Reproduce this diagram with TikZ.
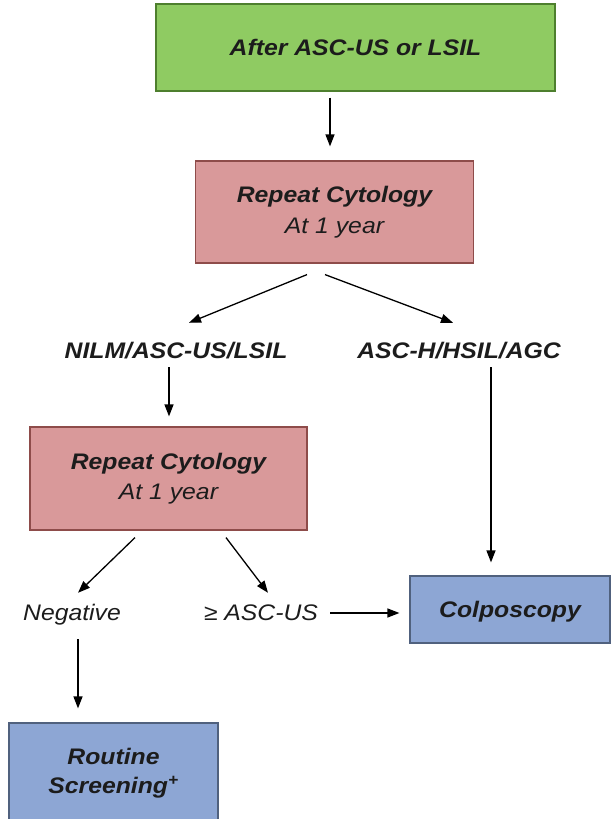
\documentclass[tikz,border=0pt]{standalone}
\usepackage{fontspec}
\usepackage{xcolor}
\usepackage{tikz}
\usetikzlibrary{calc, arrows.meta, positioning}
\newfontfamily\chartfont{Liberation Sans}[FakeStretch=1.1]
\definecolor{stepgreen}{HTML}{8FCB62}
\definecolor{stepgreenline}{HTML}{4E7F2E}
\definecolor{steppink}{HTML}{D9999A}
\definecolor{steppinkline}{HTML}{8E4C4A}
\definecolor{stepblue}{HTML}{8DA6D4}
\definecolor{stepblueline}{HTML}{50617E}
\definecolor{inktext}{HTML}{1C1C1C}

\begin{document}
\begin{tikzpicture}[
        x=1pt, y=1pt,
        box/.style = {draw, rectangle, line width=1.2pt, align=center, text=inktext, font=\chartfont\fontsize{22.5}{30.5}\selectfont\itshape},
        startbox/.style = {box, fill=stepgreen, draw=stepgreenline, minimum width=399pt, minimum height=87pt},
        repeatbox/.style = {box, fill=steppink, draw=steppinkline, minimum width=278pt, minimum height=102pt},
        endbox/.style = {box, fill=stepblue, draw=stepblueline},
        result/.style = {inner sep=0pt, text height=16pt, text depth=0pt, text=inktext, font=\chartfont\fontsize{22.5}{27}\selectfont\itshape},
        arrow/.style = {draw=black, -{Triangle[length=12pt, width=9pt]}, line width=1.3pt}
    ]

        \useasboundingbox (0,0) rectangle (612,819);

        % Start
        \node (start) [startbox] at (355.5,771.5) {\bfseries After ASC-US or LSIL};

        % First repeat
        \node (rep1) [repeatbox] at (334.5,607) {\bfseries Repeat Cytology\\At 1 year};

        % Results of first repeat
        \node (nilm) [result, font=\chartfont\fontsize{22.5}{27}\selectfont\bfseries\itshape] at (176,468) {NILM/ASC-US/LSIL};
        \node (asch) [result, font=\chartfont\fontsize{22.5}{27}\selectfont\bfseries\itshape] at (459,468) {ASC-H/HSIL/AGC};

        % Second repeat
        \node (rep2) [repeatbox, minimum width=277pt, minimum height=103pt] at (168.5,340.5) {\bfseries Repeat Cytology\\At 1 year};

        % Results of second repeat
        \node (neg) [result] at (72,206) {Negative};
        \node (ascus) [result] at (261,206) {≥ ASC-US};

        % Outcomes
        \node (colpo) [endbox, minimum width=200pt, minimum height=67pt, text height=16pt, text depth=0pt] at (510,209.5) {\bfseries Colposcopy};
        \node (routine) [endbox, minimum width=209pt, minimum height=100pt, font=\chartfont\fontsize{22.5}{29}\selectfont\itshape] at (113.5,46) {\bfseries Routine\\\bfseries Screening\textsuperscript{+}};

        % Arrows
        \draw [arrow] ([xshift=-25.5pt, yshift=-6pt]start.south) -- ([xshift=-4.5pt, yshift=14pt]rep1.north);

        \draw [arrow] ([xshift=-27.5pt, yshift=-11pt]rep1.south) -- ([xshift=13pt, yshift=20pt]nilm.north);
        \draw [arrow] ([xshift=-9.5pt, yshift=-11pt]rep1.south) -- ([xshift=-6pt, yshift=20pt]asch.north);

        \draw [arrow] ([xshift=-7pt, yshift=-8pt]nilm.south) -- ([xshift=0.5pt, yshift=10pt]rep2.north);
        \draw [arrow] ([xshift=32pt, yshift=-8pt]asch.south) -- ([xshift=-19pt, yshift=13pt]colpo.north);

        \draw [arrow] ([xshift=-33.5pt, yshift=-7pt]rep2.south) -- ([xshift=6pt, yshift=12pt]neg.north);
        \draw [arrow] ([xshift=57.5pt, yshift=-7pt]rep2.south) -- ([xshift=7pt, yshift=12pt]ascus.north);

        \draw [arrow, shorten <=12pt, shorten >=10pt] (ascus.east) -- (ascus.east -| colpo.west);
        \draw [arrow] ([xshift=6pt, yshift=-18pt]neg.south) -- ([xshift=-35.5pt, yshift=14pt]routine.north);

    \end{tikzpicture}
\end{document}
